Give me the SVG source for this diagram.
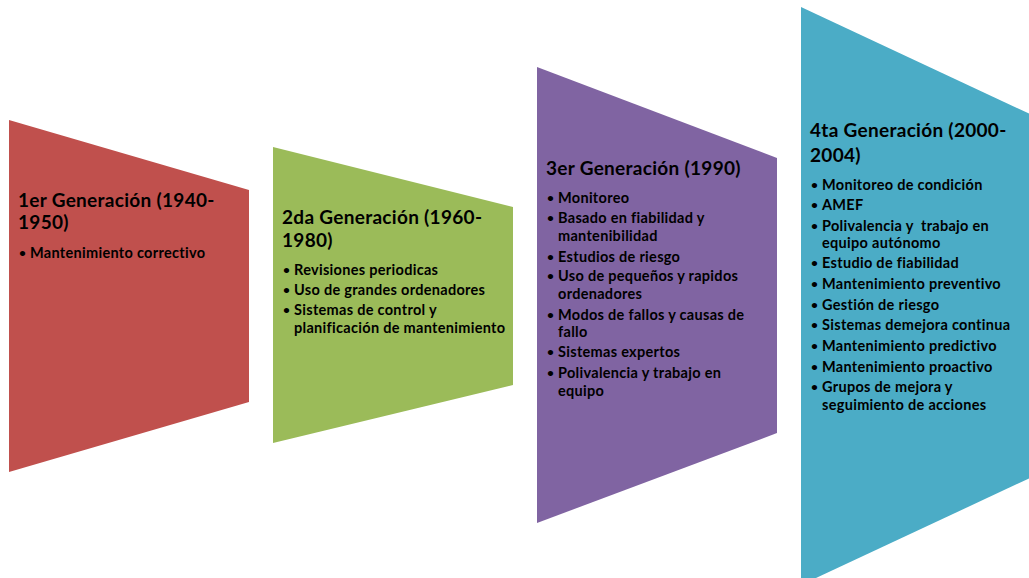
<svg xmlns="http://www.w3.org/2000/svg" width="1029" height="578" viewBox="0 0 1029 578">
<style>
.t{font-family:Lato,"Open Sans","Liberation Sans",sans-serif;font-weight:bold;fill:#000;letter-spacing:0.3px}
.h{font-size:19px}
.b{font-size:14.5px}
.d{font-size:12px}
</style>
<rect width="1029" height="578" fill="#fff"/>
<g id="gen1">
<polygon points="9,120 249,190 249,402 9,472" fill="#C0504D"/>
<text class="t h"><tspan x="18" y="207">1er Generación (1940-</tspan><tspan x="18" y="229">1950)</tspan></text>
<text class="t b"><tspan class="d" x="19" y="257">•</tspan><tspan x="30" y="258">Mantenimiento correctivo</tspan></text>
</g>
<g id="gen2">
<polygon points="273,147 513,207 513,385 273,443" fill="#9BBB59"/>
<text class="t h"><tspan x="282" y="224">2da Generación (1960-</tspan><tspan x="282" y="247">1980)</tspan></text>
<text class="t b">
<tspan class="d" x="283" y="274">•</tspan><tspan x="294" y="275">Revisiones periodicas</tspan>
<tspan class="d" x="283" y="294">•</tspan><tspan x="294" y="295">Uso de grandes ordenadores</tspan>
<tspan class="d" x="283" y="314">•</tspan><tspan x="294" y="315">Sistemas de control y</tspan>
<tspan x="294" y="333">planificación de mantenimiento</tspan>
</text>
</g>
<g id="gen3">
<polygon points="537,67 777,158 777,433 537,523" fill="#8064A2"/>
<text class="t h"><tspan x="546" y="175">3er Generación (1990)</tspan></text>
<text class="t b">
<tspan class="d" x="547" y="202">•</tspan><tspan x="558" y="203">Monitoreo</tspan>
<tspan class="d" x="547" y="222">•</tspan><tspan x="558" y="223">Basado en fiabilidad y</tspan>
<tspan x="558" y="241">mantenibilidad</tspan>
<tspan class="d" x="547" y="261">•</tspan><tspan x="558" y="262">Estudios de riesgo</tspan>
<tspan class="d" x="547" y="280">•</tspan><tspan x="558" y="281">Uso de pequeños y rapidos</tspan>
<tspan x="558" y="299">ordenadores</tspan>
<tspan class="d" x="547" y="319">•</tspan><tspan x="558" y="320">Modos de fallos y causas de</tspan>
<tspan x="558" y="337">fallo</tspan>
<tspan class="d" x="547" y="356">•</tspan><tspan x="558" y="357">Sistemas expertos</tspan>
<tspan class="d" x="547" y="377">•</tspan><tspan x="558" y="378">Polivalencia y trabajo en</tspan>
<tspan x="558" y="396">equipo</tspan>
</text>
</g>
<g id="gen4">
<polygon points="801,7 1045,121 1045,471 801,585" fill="#4BACC6"/>
<text class="t h"><tspan x="810" y="137">4ta Generación (2000-</tspan><tspan x="810" y="162">2004)</tspan></text>
<text class="t b">
<tspan class="d" x="811" y="189">•</tspan><tspan x="822" y="190">Monitoreo de condición</tspan>
<tspan class="d" x="811" y="209">•</tspan><tspan x="822" y="210">AMEF</tspan>
<tspan class="d" x="811" y="230">•</tspan><tspan x="822" y="231" xml:space="preserve">Polivalencia y  trabajo en</tspan>
<tspan x="822" y="248">equipo autónomo</tspan>
<tspan class="d" x="811" y="267">•</tspan><tspan x="822" y="268">Estudio de fiabilidad</tspan>
<tspan class="d" x="811" y="288">•</tspan><tspan x="822" y="289">Mantenimiento preventivo</tspan>
<tspan class="d" x="811" y="309">•</tspan><tspan x="822" y="310">Gestión de riesgo</tspan>
<tspan class="d" x="811" y="329">•</tspan><tspan x="822" y="330">Sistemas demejora continua</tspan>
<tspan class="d" x="811" y="350">•</tspan><tspan x="822" y="351">Mantenimiento predictivo</tspan>
<tspan class="d" x="811" y="371">•</tspan><tspan x="822" y="372">Mantenimiento proactivo</tspan>
<tspan class="d" x="811" y="391">•</tspan><tspan x="822" y="392">Grupos de mejora y</tspan>
<tspan x="822" y="410">seguimiento de acciones</tspan>
</text>
</g>
<g id="connectors"/>
</svg>
